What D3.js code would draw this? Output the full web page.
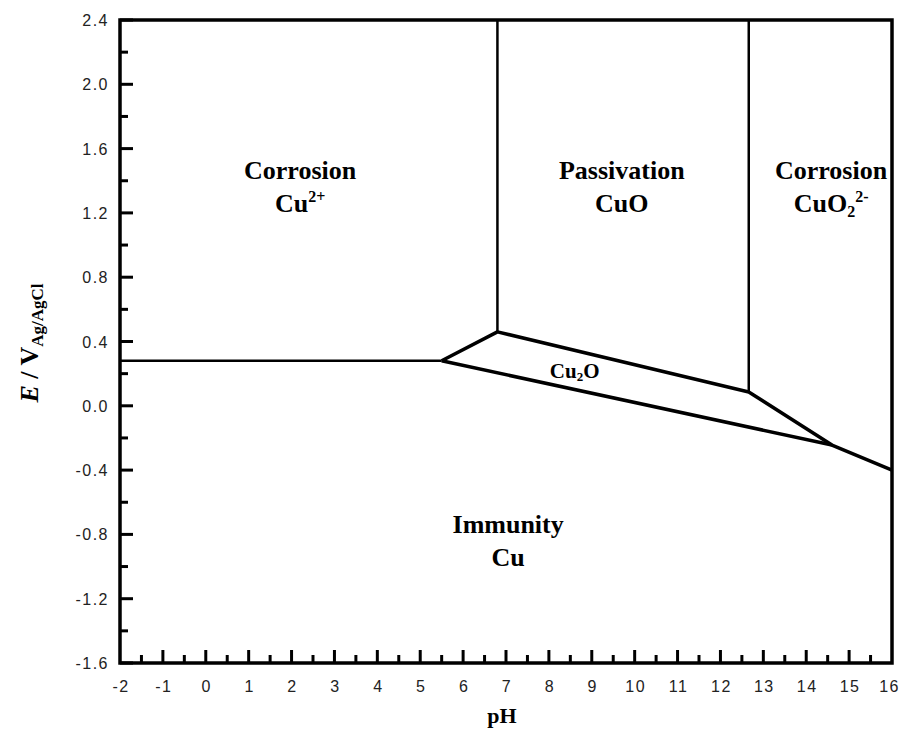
<!DOCTYPE html>
<html>
<head>
<meta charset="utf-8">
<script src="https://cdn.jsdelivr.net/npm/d3@7"></script>
<style>
  body { margin: 0; background: #fff; }
  svg { display: block; }
  .tick-label { font-family: "Liberation Sans", Arial, sans-serif; font-size: 16px; fill: #222; letter-spacing: 1.5px; }
  .region { font-family: "Liberation Serif", "Times New Roman", serif; font-weight: bold; font-size: 26px; fill: #000; }
</style>
</head>
<body>
<svg id="chart" width="901" height="729"></svg>
<script>
var width = 901,
  height = 729;

// axis ranges and tick values
const phDomain = [-2, 16];
const eDomain = [-1.6, 2.4];
const phTicks = d3.range(-2, 17, 1);
const phMinorTicks = d3.range(-1.5, 16, 1);
const eTicks = [-1.6, -1.2, -0.8, -0.4, 0.0, 0.4, 0.8, 1.2, 1.6, 2.0, 2.4];
const eMinorTicks = [-1.4, -1.0, -0.6, -0.2, 0.2, 0.6, 1.0, 1.4, 1.8, 2.2];

// phase boundaries (pH, E)
const cu2plusLine = [[-2, 0.28], [5.5, 0.28]];
const cu2oUpper = [[5.5, 0.28], [6.8, 0.46], [12.66, 0.086], [14.6, -0.244], [16, -0.4]];
const cu2oLower = [[5.5, 0.28], [14.6, -0.244]];
const cuoLeft = [[6.8, 0.46], [6.8, 2.4]];
const cuoRight = [[12.66, 0.086], [12.66, 2.4]];

// region labels: name, species parts, anchor in (pH, E)
const regions = [
  { name: "Corrosion", species: [["Cu", 0], ["2+", -1]], ph: 2.2, e: 1.41 },
  { name: "Passivation", species: [["CuO", 0]], ph: 9.7, e: 1.41 },
  { name: "Corrosion", species: [["CuO", 0], ["2", 1], ["2-", -1]], ph: 14.58, e: 1.41 },
  { name: "Immunity", species: [["Cu", 0]], ph: 7.05, e: -0.79 }
];

const svg = d3.select("#chart");

const x = d3.scaleLinear().domain(phDomain).range([120, 892]);
const y = d3.scaleLinear().domain(eDomain).range([663, 20]);

// frame
svg.append("rect")
  .attr("x", x(-2)).attr("y", y(2.4))
  .attr("width", x(16) - x(-2)).attr("height", y(-1.6) - y(2.4))
  .attr("fill", "none").attr("stroke", "#000").attr("stroke-width", 3.5);

// y ticks (inward)
svg.selectAll(".ymaj").data(eTicks).join("line")
  .attr("x1", x(-2)).attr("x2", x(-2) + 13)
  .attr("y1", d => y(d)).attr("y2", d => y(d))
  .attr("stroke", "#000").attr("stroke-width", 3);
svg.selectAll(".ymin").data(eMinorTicks).join("line")
  .attr("x1", x(-2)).attr("x2", x(-2) + 8)
  .attr("y1", d => y(d)).attr("y2", d => y(d))
  .attr("stroke", "#000").attr("stroke-width", 3);
svg.selectAll(".ylab").data(eTicks).join("text")
  .attr("class", "tick-label")
  .attr("x", 109).attr("y", d => y(d) + 6)
  .attr("text-anchor", "end")
  .text(d => d.toFixed(1));

// x ticks (inward)
svg.selectAll(".xmaj").data(phTicks.slice(1, -1)).join("line")
  .attr("x1", d => x(d)).attr("x2", d => x(d))
  .attr("y1", y(-1.6)).attr("y2", y(-1.6) - 13)
  .attr("stroke", "#000").attr("stroke-width", 3);
svg.selectAll(".xmin").data(phMinorTicks).join("line")
  .attr("x1", d => x(d)).attr("x2", d => x(d))
  .attr("y1", y(-1.6)).attr("y2", y(-1.6) - 8)
  .attr("stroke", "#000").attr("stroke-width", 3);
svg.selectAll(".xlab").data(phTicks).join("text")
  .attr("class", "tick-label")
  .attr("x", d => (d === 16 ? 900 : x(d) + 1)).attr("y", 692)
  .attr("text-anchor", d => (d === 16 ? "end" : "middle"))
  .text(d => d);

// boundaries
const line = d3.line().x(d => x(d[0])).y(d => y(d[1]));
svg.append("path").datum(cu2plusLine).attr("d", line)
  .attr("fill", "none").attr("stroke", "#000").attr("stroke-width", 2.5);
svg.append("path").datum(cu2oUpper).attr("d", line)
  .attr("fill", "none").attr("stroke", "#000").attr("stroke-width", 3.5)
  .attr("stroke-linejoin", "round");
svg.append("path").datum(cu2oLower).attr("d", line)
  .attr("fill", "none").attr("stroke", "#000").attr("stroke-width", 3.5);
svg.append("path").datum(cuoLeft).attr("d", line)
  .attr("fill", "none").attr("stroke", "#000").attr("stroke-width", 2.5);
svg.append("path").datum(cuoRight).attr("d", line)
  .attr("fill", "none").attr("stroke", "#000").attr("stroke-width", 2.5);

// region labels
regions.forEach(function (r) {
  svg.append("text").attr("class", "region")
    .attr("x", x(r.ph)).attr("y", y(r.e))
    .attr("text-anchor", "middle")
    .text(r.name);
  const t = svg.append("text").attr("class", "region")
    .attr("x", x(r.ph)).attr("y", y(r.e) + 33)
    .attr("text-anchor", "middle");
  let shift = 0;
  r.species.forEach(function (p) {
    const target = p[1] === 0 ? 0 : p[1] > 0 ? 5 : -10;
    t.append("tspan")
      .attr("dy", target - shift)
      .style("font-size", p[1] === 0 ? "26px" : "16px")
      .text(p[0]);
    shift = target;
  });
});

// Cu2O label
const cu2o = svg.append("text").attr("class", "region")
  .attr("x", x(8.6)).attr("y", y(0.17))
  .attr("text-anchor", "middle")
  .style("font-size", "21px");
cu2o.append("tspan").text("Cu");
cu2o.append("tspan").attr("dy", 3).style("font-size", "13px").text("2");
cu2o.append("tspan").attr("dy", -3).text("O");

// axis titles
svg.append("text").attr("class", "region")
  .attr("x", 502).attr("y", 723)
  .attr("text-anchor", "middle")
  .style("font-size", "22px")
  .text("pH");

const yt = svg.append("text").attr("class", "region")
  .attr("transform", "translate(38,343) rotate(-90)")
  .attr("text-anchor", "middle")
  .style("font-size", "26px");
yt.append("tspan").style("font-style", "italic").text("E");
yt.append("tspan").text(" / V");
yt.append("tspan").attr("dy", 5).style("font-size", "17px").text("Ag/AgCl");
</script>
</body>
</html>
